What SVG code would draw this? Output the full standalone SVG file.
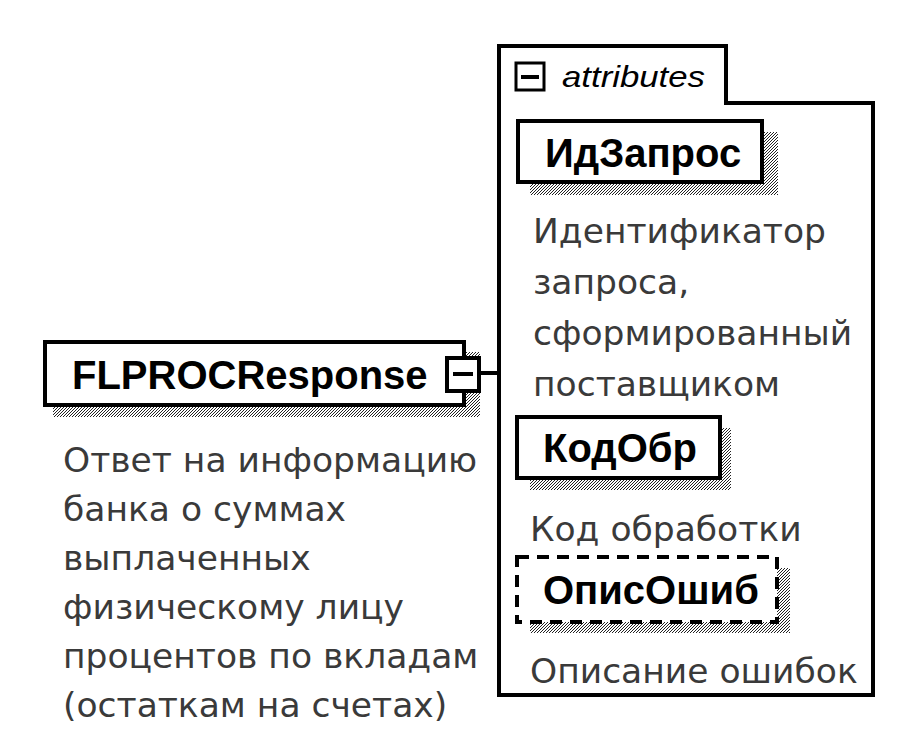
<svg xmlns="http://www.w3.org/2000/svg" width="912" height="750" viewBox="0 0 912 750">
<defs>
<pattern id="hatch" width="3" height="3" patternUnits="userSpaceOnUse">
<rect width="3" height="3" fill="#ffffff"/>
<path d="M0,3 L3,0" stroke="#222" stroke-width="1"/>
</pattern>
<style>
.box{fill:#fff;stroke:#000;stroke-width:4}
.dash{fill:#fff;stroke:#000;stroke-width:4;stroke-dasharray:12,8}
.shadow{fill:url(#hatch)}
.lbl{font-family:"Liberation Sans",Arial,sans-serif;font-weight:bold;font-size:40px;fill:#000}
.desc{font-family:"DejaVu Sans","Noto Sans",sans-serif;font-size:34.5px;fill:#3a3a3a}
.ital{font-family:"Liberation Sans",Arial,sans-serif;font-style:italic;font-size:30px;fill:#000}
.line{stroke:#000;stroke-width:4;fill:none}
</style>
</defs>
<rect width="912" height="750" fill="#fff"/>

<g id="attributes">
<path class="line" d="M499,46 H726 V103 H873 V695 H499 Z"/>
<rect x="516" y="63" width="28" height="27" fill="#fff" stroke="#000" stroke-width="3"/>
<line x1="521" y1="77" x2="539" y2="77" stroke="#000" stroke-width="4"/>
<text class="ital" x="562" y="87" textLength="143" lengthAdjust="spacingAndGlyphs">attributes</text>
</g>

<g id="connectors">
<line class="line" x1="479" y1="373" x2="499" y2="373"/>
</g>

<g id="FLPROCResponse">
<rect class="shadow" x="53" y="405" width="427" height="12"/>
<rect class="shadow" x="464" y="352" width="16" height="65"/>
<rect class="box" x="45" y="342" width="419" height="63"/>
<text class="lbl" x="72" y="389">FLPROCResponse</text>
<rect x="447" y="358" width="32" height="33" fill="#fff" stroke="#000" stroke-width="4"/>
<line x1="453" y1="374" x2="473" y2="374" stroke="#000" stroke-width="4"/>
<text class="desc" x="63"><tspan x="63" y="472">Ответ на информацию</tspan><tspan x="63" y="521">банка о суммах</tspan><tspan x="63" y="570">выплаченных</tspan><tspan x="63" y="619">физическому лицу</tspan><tspan x="63" y="668">процентов по вкладам</tspan><tspan x="63" y="717">(остаткам на счетах)</tspan></text>
</g>

<g id="IdZapros">
<rect class="shadow" x="530" y="182" width="248" height="13"/>
<rect class="shadow" x="762" y="132" width="16" height="63"/>
<rect class="box" x="518" y="121" width="244" height="61"/>
<text class="lbl" x="545" y="167">ИдЗапрос</text>
<text class="desc"><tspan x="533" y="243">Идентификатор</tspan><tspan x="533" y="294">запроса,</tspan><tspan x="533" y="345">сформированный</tspan><tspan x="533" y="396">поставщиком</tspan></text>
</g>

<g id="KodObr">
<rect class="shadow" x="530" y="478" width="201" height="12"/>
<rect class="shadow" x="720" y="428" width="11" height="62"/>
<rect class="box" x="517" y="417" width="203" height="61"/>
<text class="lbl" x="543" y="462">КодОбр</text>
<text class="desc" x="530" y="541">Код обработки</text>
</g>

<g id="OpisOshib">
<rect class="shadow" x="530" y="622" width="260" height="11"/>
<rect class="shadow" x="777" y="568" width="13" height="65"/>
<rect class="dash" x="517" y="557" width="260" height="65"/>
<text class="lbl" x="543" y="604">ОписОшиб</text>
<text class="desc" x="530" y="683">Описание ошибок</text>
</g>
</svg>
